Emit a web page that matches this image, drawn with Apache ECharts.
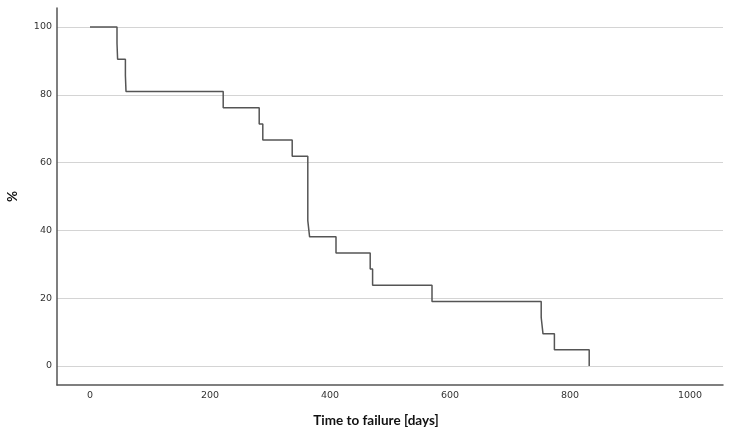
<!DOCTYPE html>
<html>
<head>
    <meta charset="UTF-8">
    <title>Time to failure</title>
    <script src="https://cdn.jsdelivr.net/npm/echarts@6/dist/echarts.min.js"></script>
</head>
<body style="margin:0;background:#fff;">
<div id="chart" style="width:735px;height:435px;"></div>
<script type="text/javascript">

    // event times (days) and % still surviving after each event
    var days = [0, 45, 46, 59, 60, 222, 282, 288, 337, 363, 366, 410, 467, 471, 570, 752, 755, 774, 832];
    var percent = [100, 95.2, 90.5, 85.7, 81.0, 76.2, 71.4, 66.7, 61.9, 42.9, 38.1, 33.3, 28.6, 23.8, 19.0, 14.3, 9.5, 4.8, 0];

    var myChart = echarts.init(document.getElementById('chart'));

    myChart.setOption({
        animation: false,
        backgroundColor: '#fff',
        grid: {left: 57, right: 12, top: 8, bottom: 50, containLabel: false, outerBoundsMode: 'none'},
        xAxis: {
            type: 'value',
            min: -55,
            max: 1055,
            splitNumber: 5,
            name: 'Time to failure [days]',
            nameLocation: 'middle',
            nameGap: 29,
            nameTextStyle: {fontFamily: 'Lato', fontWeight: 'bold', fontSize: 13.5, color: '#111', padding: [0, 28, 0, 0]},
            axisLine: {onZero: false, lineStyle: {color: '#555', width: 1.5}},
            axisTick: {show: false},
            axisLabel: {
                showMinLabel: false, showMaxLabel: false, fontFamily: 'DejaVu Sans', fontSize: 9.5, color: '#333', margin: 6,
                formatter: function (v) { return String(v); }
            },
            splitLine: {show: false}
        },
        yAxis: {
            type: 'value',
            min: -5.6,
            max: 105.6,
            splitNumber: 5,
            name: '%',
            nameLocation: 'middle',
            nameGap: 37,
            nameRotate: 90,
            nameTextStyle: {fontFamily: 'Lato', fontWeight: 'bold', fontSize: 13.5, color: '#111'},
            axisLine: {show: true, onZero: false, lineStyle: {color: '#555', width: 1.5}},
            axisTick: {show: false},
            axisLabel: {showMinLabel: false, showMaxLabel: false, fontFamily: 'DejaVu Sans', fontSize: 9.5, color: '#333', margin: 5},
            splitLine: {show: true, showMinLine: false, showMaxLine: false, lineStyle: {color: '#d4d4d4', width: 1.2}}
        },
        series: [{
            type: 'line',
            step: 'end',
            symbol: 'none',
            lineStyle: {color: '#555', width: 1.5},
            data: days.map(function (d, i) {
                return [d, percent[i]];
            })
        }]
    });
</script>
</body>
</html>
